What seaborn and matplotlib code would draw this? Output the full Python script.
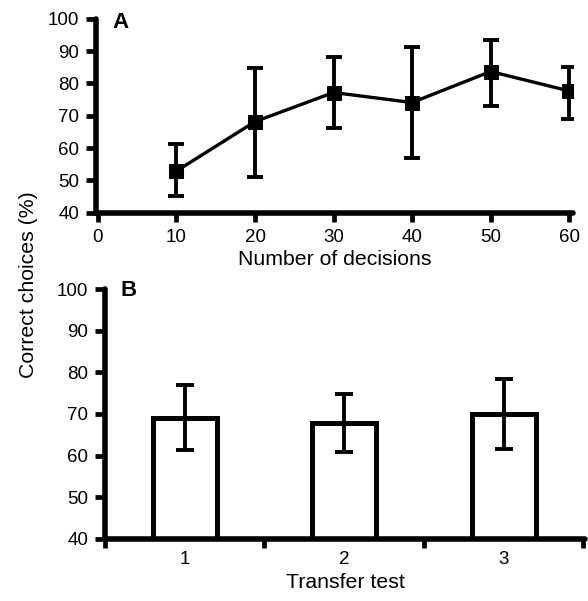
import matplotlib
matplotlib.use("Agg")
from matplotlib import pyplot as plt
import seaborn as sns
import pandas as pd
import numpy as np

# Panel A: learning curve
decisions = [10, 20, 30, 40, 50, 60]
correct_a = [52.9, 68.2, 77.2, 74.1, 83.7, 77.7]
err_low_a = [45.2, 51.1, 66.1, 57.0, 73.0, 69.0]
err_high_a = [61.2, 84.7, 88.3, 91.2, 93.5, 85.2]

# Panel B: transfer tests
transfer = ["1", "2", "3"]
correct_b = [69.1, 67.9, 70.0]
err_low_b = [61.3, 60.9, 61.5]
err_high_b = [76.9, 74.9, 78.5]

sns.set_style("ticks")
plt.rcParams["font.family"] = ["Liberation Sans", "DejaVu Sans"]
plt.rcParams.update({"text.color": "black", "axes.labelcolor": "black",
                     "xtick.color": "black", "ytick.color": "black",
                     "axes.edgecolor": "black"})

TICK_FS = 13.5
LABEL_FS = 15.3
spine_lw = 4.0

fig = plt.figure(figsize=(5.88, 6.01), dpi=100)
ax1 = fig.add_axes([0.1633, 0.6461, 0.8112, 0.3225])
ax2 = fig.add_axes([0.1786, 0.1032, 0.8163, 0.4159])

# Panel A
df_a = pd.DataFrame({"decisions": decisions, "correct": correct_a})
yerr_a = [np.array(correct_a) - np.array(err_low_a),
          np.array(err_high_a) - np.array(correct_a)]
ax1.errorbar(decisions, correct_a, yerr=yerr_a, fmt="none", ecolor="black",
             elinewidth=2.8, capsize=6, capthick=2.8, zorder=2)
sns.lineplot(data=df_a, x="decisions", y="correct", ax=ax1, color="black",
             linewidth=2.4, marker="s", markersize=10, markeredgecolor="black",
             zorder=3)
ax1.set_xlim(-0.25, 60.5)
ax1.set_ylim(40, 100)
ax1.set_xticks(range(0, 61, 10))
ax1.set_yticks(range(40, 101, 10))
ax1.set_xlabel("Number of decisions", fontsize=LABEL_FS, labelpad=3)
ax1.set_ylabel("")
ax1.tick_params(axis="x", length=6.5, width=3.4, direction="out", pad=5,
                labelsize=TICK_FS)

# Panel B
df_b = pd.DataFrame({"transfer": transfer, "correct": correct_b})
sns.barplot(data=df_b, x="transfer", y="correct", ax=ax2, width=0.4,
            color="white", edgecolor="black", linewidth=3.6, errorbar=None,
            zorder=2)
yerr_b = [np.array(correct_b) - np.array(err_low_b),
          np.array(err_high_b) - np.array(correct_b)]
ax2.errorbar(range(len(transfer)), correct_b, yerr=yerr_b, fmt="none",
             ecolor="black", elinewidth=2.8, capsize=6.5, capthick=2.8,
             zorder=3)
ax2.set_xlim(-0.5, 2.51)
ax2.set_ylim(40, 100)
ax2.set_yticks(range(40, 101, 10))
ax2.set_xticks([0, 1, 2])
ax2.set_xticks([-0.5, 0.5, 1.5, 2.5], minor=True)
ax2.tick_params(axis="x", which="major", length=0, pad=9, labelsize=TICK_FS)
ax2.tick_params(axis="x", which="minor", length=6.5, width=3.4,
                direction="out")
ax2.set_xlabel("Transfer test", fontsize=LABEL_FS, labelpad=3)
ax2.set_ylabel("")

for ax in (ax1, ax2):
    sns.despine(ax=ax)
    for side in ("left", "bottom"):
        ax.spines[side].set_linewidth(spine_lw)
        ax.spines[side].set_capstyle("round")
    ax.tick_params(axis="y", length=7, width=3.4, direction="out", pad=5,
                   labelsize=TICK_FS)

# Panel letters and shared y label
fig.text(112 / 588, 1 - 28 / 601, "A", fontsize=16, fontweight="bold",
         va="baseline", ha="left")
fig.text(120 / 588, 1 - 296 / 601, "B", fontsize=16, fontweight="bold",
         va="baseline", ha="left")
fig.text(0.049, 0.526, "Correct choices (%)", rotation=90, fontsize=LABEL_FS,
         va="center", ha="center")

fig.savefig("out.png", dpi=100)
